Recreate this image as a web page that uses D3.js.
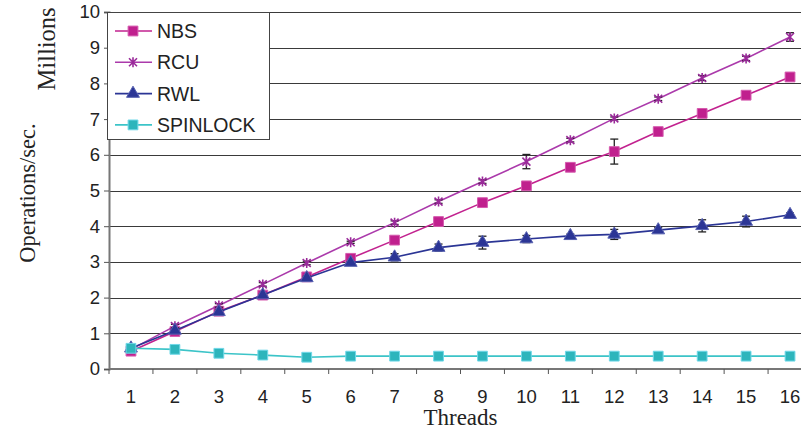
<!DOCTYPE html>
<html>
<head>
<meta charset="utf-8">
<script src="https://cdn.jsdelivr.net/npm/d3@7"></script>
<style>
    html, body { margin: 0; padding: 0; background: #fff; overflow: hidden; }
    svg { display: block; }
</style>
</head>
<body>
<ops-chart></ops-chart>
<script>
// Threads on the x axis
const threads = [1, 2, 3, 4, 5, 6, 7, 8, 9, 10, 11, 12, 13, 14, 15, 16];
const yTicks = [0, 1, 2, 3, 4, 5, 6, 7, 8, 9, 10];

// Operations/sec. in millions
const nbsValues = [0.50, 1.05, 1.62, 2.07, 2.58, 3.10, 3.61, 4.13, 4.66, 5.13, 5.65, 6.09, 6.65, 7.16, 7.67, 8.18];
const rcuValues = [0.55, 1.20, 1.78, 2.37, 2.97, 3.55, 4.10, 4.69, 5.25, 5.81, 6.41, 7.02, 7.57, 8.15, 8.70, 9.30];
const rwlValues = [0.58, 1.08, 1.60, 2.07, 2.55, 2.98, 3.13, 3.40, 3.54, 3.64, 3.73, 3.77, 3.89, 4.01, 4.13, 4.32];
const spinValues = [0.58, 0.55, 0.44, 0.39, 0.33, 0.36, 0.36, 0.36, 0.36, 0.36, 0.36, 0.36, 0.36, 0.36, 0.36, 0.36];

// Error bar half widths (millions)
const nbsErrors = [0.02, 0.03, 0.03, 0.03, 0.03, 0.03, 0.03, 0.03, 0.03, 0.03, 0.03, 0.35, 0.07, 0.03, 0.03, 0.03];
const rcuErrors = [0.03, 0.05, 0.05, 0.05, 0.05, 0.03, 0.05, 0.05, 0.05, 0.20, 0.05, 0.04, 0.05, 0.07, 0.06, 0.12];
const rwlErrors = [0.02, 0.05, 0.05, 0.03, 0.05, 0.03, 0.10, 0.10, 0.18, 0.10, 0.05, 0.14, 0.07, 0.17, 0.15, 0.05];
const spinErrors = [0.02, 0.02, 0.02, 0.02, 0.02, 0.02, 0.02, 0.02, 0.02, 0.02, 0.02, 0.02, 0.02, 0.02, 0.02, 0.02];

const seriesNames = ["NBS", "RCU", "RWL", "SPINLOCK"];

const sansFont = "Arial, 'Liberation Sans', sans-serif";
const serifFont = "'Times New Roman', 'Liberation Serif', serif";

/**
 * @name OpsChart
 * @description
 * Line chart of operations per second against thread count
 */
class OpsChart extends HTMLElement {

    constructor() {
        super();
        this.chartProps = {};
    }

    connectedCallback() {
        this.innerHTML = "<svg></svg>";

        // plot area, runs past the right edge of the picture
        this.margin = { top: 12, left: 109, bottom: 60 };
        this.width = 703;
        this.height = 357;

        this.series = [
            { name: seriesNames[0], values: nbsValues, errors: nbsErrors, line: "#c2228f", fill: "#c0208e", stroke: "#d55aae", marker: "square" },
            { name: seriesNames[1], values: rcuValues, errors: rcuErrors, line: "#ab3aab", fill: "none", stroke: "#9a2a9a", marker: "star" },
            { name: seriesNames[2], values: rwlValues, errors: rwlErrors, line: "#2b3595", fill: "#2b3595", stroke: "#5660b0", marker: "triangle" },
            { name: seriesNames[3], values: spinValues, errors: spinErrors, line: "#3cc4c8", fill: "#2db5bc", stroke: "#70d8e8", marker: "square" }
        ];

        this.svgSetup()
            .axisSetup()
            .drawSeries()
            .legendSetup();
    }

    svgSetup() {
        this.root = d3.select(this).select("svg")
            .attr("width", 801)
            .attr("height", 429);

        this.svg = this.root.append("g")
            .attr("transform", "translate(" + this.margin.left + "," + this.margin.top + ")");

        this.chartProps.x = d3.scaleBand().domain(threads).range([0, this.width]);
        this.chartProps.y = d3.scaleLinear().domain([0, 10]).range([this.height, 0]);
        return this;
    }

    axisSetup() {
        const x = this.chartProps.x;
        const y = this.chartProps.y;

        // horizontal grid lines
        this.svg.append("g")
            .selectAll("line")
            .data(yTicks.filter(d => d > 0))
            .join("line")
            .attr("x1", 0)
            .attr("x2", this.width)
            .attr("y1", d => Math.round(y(d)) + 0.5)
            .attr("y2", d => Math.round(y(d)) + 0.5)
            .attr("stroke", "#3a3a3a")
            .attr("stroke-width", 1.2);

        // y axis
        const yAxis = d3.axisLeft(y).tickValues(yTicks).tickSize(5).tickPadding(4);
        const yg = this.svg.append("g").attr("class", "y axis").call(yAxis);
        yg.select(".domain").attr("stroke", "#777").attr("stroke-width", 2);
        yg.selectAll(".tick line").attr("stroke", "#555");
        yg.selectAll("text")
            .style("font-family", sansFont)
            .style("font-size", "18.5px")
            .attr("fill", "#222");

        // x axis: labels centred in each band, ticks between bands
        const xAxis = d3.axisBottom(x).tickSize(0).tickPadding(20.5);
        const xg = this.svg.append("g")
            .attr("class", "x axis")
            .attr("transform", "translate(0," + this.height + ")")
            .call(xAxis);
        xg.select(".domain").remove();
        xg.selectAll("text")
            .style("font-family", sansFont)
            .style("font-size", "18.5px")
            .attr("fill", "#222");

        xg.append("line")
            .attr("x1", 0).attr("x2", this.width)
            .attr("y1", 0).attr("y2", 0)
            .attr("stroke", "#777").attr("stroke-width", 2);

        xg.append("g")
            .selectAll("line")
            .data(threads)
            .join("line")
            .attr("x1", d => x(d)).attr("x2", d => x(d))
            .attr("y1", 0).attr("y2", 5)
            .attr("stroke", "#555");

        // axis titles
        this.root.append("text")
            .attr("x", this.margin.left + this.width / 2)
            .attr("y", 425)
            .attr("text-anchor", "middle")
            .style("font-family", serifFont)
            .style("font-size", "23px")
            .attr("fill", "#222")
            .text("Threads");

        this.root.append("text")
            .attr("transform", "translate(35,193) rotate(-90)")
            .attr("text-anchor", "middle")
            .style("font-family", serifFont)
            .style("font-size", "22.5px")
            .attr("fill", "#222")
            .text("Operations/sec.");

        this.root.append("text")
            .attr("transform", "translate(55,49) rotate(-90)")
            .attr("text-anchor", "middle")
            .style("font-family", serifFont)
            .style("font-size", "24.5px")
            .attr("fill", "#222")
            .text("Millions");

        return this;
    }

    drawMarker(g, s) {
        if (s.marker === "star") {
            g.append("path")
                .attr("d", "M-4,-4L4,4M-4,4L4,-4M0,-5L0,5")
                .attr("stroke", s.stroke)
                .attr("stroke-width", 1.6)
                .attr("fill", "none");
        } else {
            const type = s.marker === "triangle" ? d3.symbolTriangle : d3.symbolSquare;
            const size = s.marker === "triangle" ? 72 : 96;
            g.append("path")
                .attr("d", d3.symbol().type(type).size(size)())
                .attr("fill", s.fill)
                .attr("stroke", s.stroke)
                .attr("stroke-width", 1);
        }
    }

    drawSeries() {
        const x = this.chartProps.x;
        const y = this.chartProps.y;
        const cx = d => x(d) + x.bandwidth() / 2;

        this.series.forEach(s => {
            const pts = threads.map((t, i) => ({ t: t, v: s.values[i], e: s.errors[i] }));
            const g = this.svg.append("g").attr("class", "series");

            g.append("path")
                .attr("d", d3.line().x(d => cx(d.t)).y(d => y(d.v))(pts))
                .attr("fill", "none")
                .attr("stroke", s.line)
                .attr("stroke-width", 1.6);

            // error bars
            const eb = g.append("g")
                .selectAll("g")
                .data(pts)
                .join("g")
                .attr("stroke", "#222")
                .attr("stroke-width", 1.3);
            eb.append("line")
                .attr("x1", d => cx(d.t)).attr("x2", d => cx(d.t))
                .attr("y1", d => y(d.v - d.e)).attr("y2", d => y(d.v + d.e));
            eb.append("line")
                .attr("x1", d => cx(d.t) - 4).attr("x2", d => cx(d.t) + 4)
                .attr("y1", d => y(d.v - d.e)).attr("y2", d => y(d.v - d.e));
            eb.append("line")
                .attr("x1", d => cx(d.t) - 4).attr("x2", d => cx(d.t) + 4)
                .attr("y1", d => y(d.v + d.e)).attr("y2", d => y(d.v + d.e));

            const self = this;
            g.append("g")
                .selectAll("g")
                .data(pts)
                .join("g")
                .attr("transform", d => "translate(" + cx(d.t) + "," + y(d.v) + ")")
                .each(function() { self.drawMarker(d3.select(this), s); });
        });
        return this;
    }

    legendSetup() {
        const legend = this.root.append("g").attr("class", "legend");

        legend.append("rect")
            .attr("x", 107.5).attr("y", 12.5)
            .attr("width", 162).attr("height", 127)
            .attr("fill", "#fff")
            .attr("stroke", "#444")
            .attr("stroke-width", 1);

        const self = this;
        const item = legend.selectAll("g.item")
            .data(this.series)
            .join("g")
            .attr("class", "item")
            .attr("transform", (d, i) => "translate(0," + (31 + i * 31.3) + ")");

        item.append("line")
            .attr("x1", 115).attr("x2", 152)
            .attr("stroke", d => d.line)
            .attr("stroke-width", 1.6);

        item.append("g")
            .attr("transform", "translate(133,0)")
            .each(function(d) { self.drawMarker(d3.select(this), d); });

        item.append("text")
            .attr("x", 157)
            .attr("dy", "0.36em")
            .style("font-family", sansFont)
            .style("font-size", "19.5px")
            .attr("fill", "#222")
            .text(d => d.name);

        return this;
    }
}

customElements.define("ops-chart", OpsChart);
</script>
</body>
</html>
